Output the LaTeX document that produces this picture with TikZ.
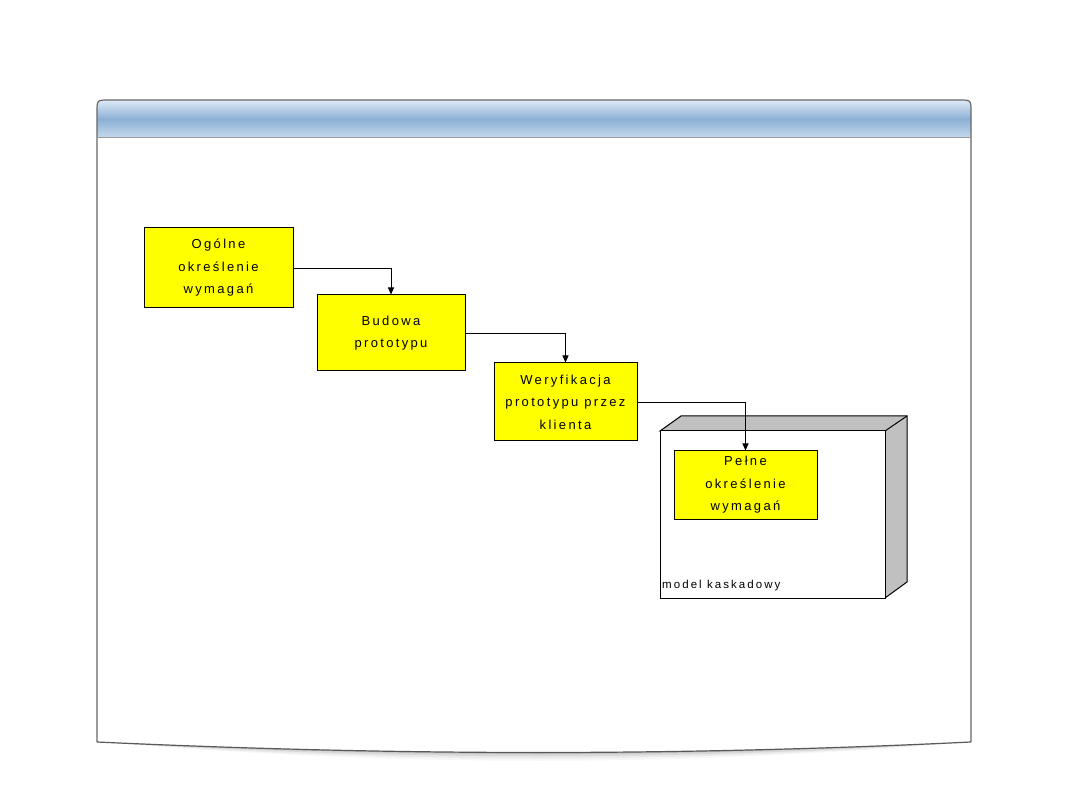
\documentclass[tikz,border=0pt]{standalone}
\usepackage{fontspec}
\setmainfont{Liberation Sans}
\newfontfamily\spaced[LetterSpace=18]{Liberation Sans}
\usetikzlibrary{arrows.meta}
\definecolor{boxyellow}{RGB}{255,255,0}
\definecolor{hdrlight}{RGB}{222,234,246}
\definecolor{hdrmid}{RGB}{140,176,212}
\definecolor{hdrlow}{RGB}{198,218,238}
\definecolor{nodegray}{RGB}{192,192,192}
\tikzset{
  stepbox/.style={draw=black, line width=1pt, fill=boxyellow, align=center,
    font=\spaced\fontsize{13}{22.5}\selectfont, inner sep=0pt},
  flow/.style={draw=black, line width=0.9pt, -{Triangle[length=7pt,width=6pt]}},
}
\begin{document}
\begin{tikzpicture}[x=1pt,y=-1pt]
\useasboundingbox (0,0) rectangle (1080,810);
% shadow under frame
\foreach \o/\a in {12/0.03,9/0.05,6/0.08,3/0.12,1/0.18}{
  \fill[black,opacity=\a] (100,742) .. controls (400,755+\o) and (680,755+\o) .. (968,742) -- cycle;
}
% frame body
\fill[white] (97,112) -- (97,742) .. controls (400,756) and (680,756) .. (971,742) -- (971,112) -- cycle;
% header
\shade[top color=hdrlight, bottom color=hdrlow, middle color=hdrmid]
  (97,138) -- (97,112) .. controls (97,100) .. (109,100) -- (959,100)
  .. controls (971,100) .. (971,112) -- (971,138) -- cycle;
\draw[gray!80!black, line width=1.2pt] (97,742) -- (97,112) .. controls (97,100) .. (109,100) -- (959,100)
  .. controls (971,100) .. (971,112) -- (971,742);
\draw[gray!70!black, line width=1.2pt] (97,742) .. controls (400,756) and (680,756) .. (971,742);
\draw[gray!80, line width=1pt] (97,138) -- (971,138);
% 3D node
\draw[line width=1pt, fill=nodegray] (660,431) -- (681,416) -- (907,416) -- (907,582) -- (885,598) -- (885,431) -- cycle;
\draw[line width=1pt] (885,431) -- (907,416);
\node[draw=black, line width=1pt, fill=white, minimum width=225pt, minimum height=167pt, inner sep=0pt] (cascade) at (772.5,514.5) {};
\node[anchor=south west, font=\spaced\fontsize{11.5}{13}\selectfont, inner sep=0pt] (cascadelbl) at (662,591) {model kaskadowy};
% boxes
\node[stepbox, minimum width=149pt, minimum height=80pt] (ogolne) at (218.5,268) {Ogólne\\określenie\\wymagań};
\node[stepbox, minimum width=148pt, minimum height=76pt] (budowa) at (391,333) {Budowa\\prototypu};
\node[stepbox, minimum width=143pt, minimum height=78pt] (weryf) at (565.5,402) {Weryfikacja\\prototypu przez\\klienta};
\node[stepbox, minimum width=143pt, minimum height=68pt] (pelne) at (745.5,485) {Pełne\\określenie\\wymagań};
% connectors
\draw[flow] (ogolne.east) -| (budowa.north);
\draw[flow] (budowa.east) -| (weryf.north);
\draw[flow] (weryf.east) -| (pelne.north);
\end{tikzpicture}
\end{document}
